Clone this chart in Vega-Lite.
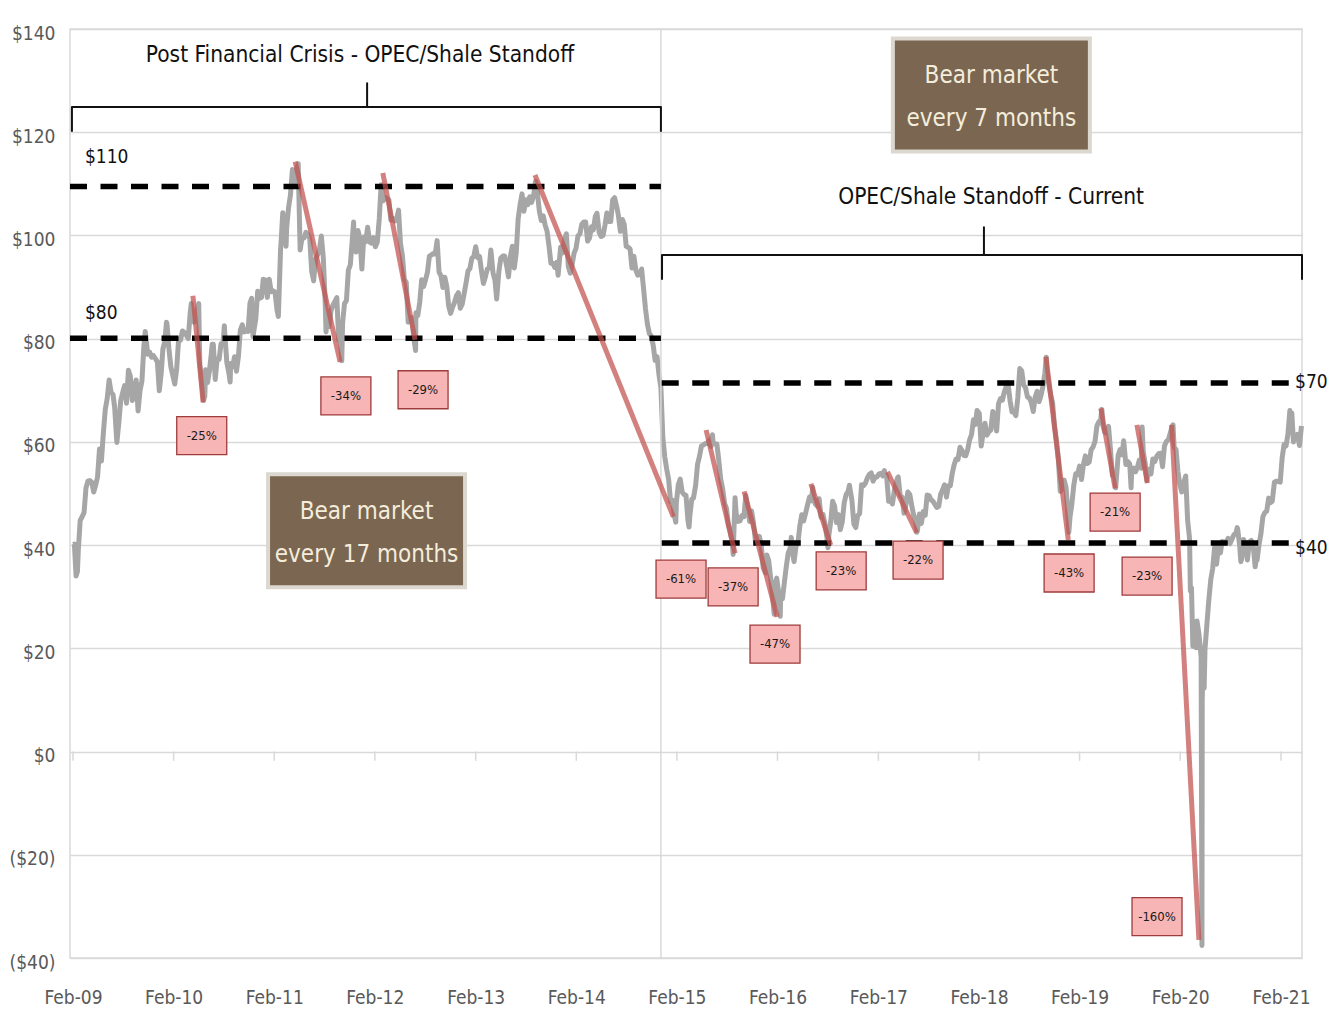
{
"$schema": "https://vega.github.io/schema/vega-lite/v6.json",
"width": 1232, "height": 929,
"autosize": {"type": "none"},
"padding": {"left": 70, "top": 29, "right": 27, "bottom": 55},
"background": "white",
"config": {
  "font": "DejaVu Sans Condensed, Liberation Sans Narrow, sans-serif",
  "view": {"stroke": "#d9d9d9", "strokeWidth": 1.5},
  "axisX": {"grid": false, "ticks": false, "domain": false, "labelFontSize": 19, "labelColor": "#595959", "labelPadding": 30},
  "axisY": {"grid": true, "gridColor": "#d9d9d9", "gridWidth": 1.5, "ticks": false, "domain": false, "labelFontSize": 19, "labelColor": "#595959", "labelPadding": 15, "labelOffset": 4}
},
"datasets": {
"feb": [{"d":"2009-02-01"},{"d":"2010-02-01"},{"d":"2011-02-01"},{"d":"2012-02-01"},{"d":"2013-02-01"},{"d":"2014-02-01"},{"d":"2015-02-01"},{"d":"2016-02-01"},{"d":"2017-02-01"},{"d":"2018-02-01"},{"d":"2019-02-01"},{"d":"2020-02-01"},{"d":"2021-02-01"}],
"wti": [
{"d":"2009-02-02","p":40.1},{"d":"2009-02-06","p":40.2},{"d":"2009-02-12","p":34.0},{"d":"2009-02-17","p":34.9},{"d":"2009-02-20","p":38.9},{"d":"2009-02-27","p":44.8},{"d":"2009-03-06","p":45.5},{"d":"2009-03-13","p":46.3},{"d":"2009-03-20","p":51.1},{"d":"2009-03-27","p":52.4},{"d":"2009-04-03","p":52.5},{"d":"2009-04-10","p":52.2},{"d":"2009-04-17","p":50.3},{"d":"2009-04-24","p":51.6},{"d":"2009-05-01","p":53.2},{"d":"2009-05-08","p":58.6},{"d":"2009-05-15","p":56.3},{"d":"2009-05-22","p":61.7},{"d":"2009-05-29","p":66.3},{"d":"2009-06-05","p":68.4},{"d":"2009-06-12","p":72.0},{"d":"2009-06-19","p":69.6},{"d":"2009-06-26","p":69.2},{"d":"2009-07-02","p":66.7},{"d":"2009-07-10","p":59.9},{"d":"2009-07-17","p":63.6},{"d":"2009-07-24","p":68.0},{"d":"2009-07-31","p":69.5},{"d":"2009-08-07","p":70.9},{"d":"2009-08-14","p":67.5},{"d":"2009-08-21","p":73.9},{"d":"2009-08-28","p":72.7},{"d":"2009-09-04","p":68.0},{"d":"2009-09-11","p":69.3},{"d":"2009-09-18","p":72.0},{"d":"2009-09-25","p":66.0},{"d":"2009-10-02","p":69.9},{"d":"2009-10-09","p":71.8},{"d":"2009-10-16","p":78.5},{"d":"2009-10-21","p":81.4},{"d":"2009-10-23","p":80.5},{"d":"2009-10-30","p":77.0},{"d":"2009-11-06","p":77.4},{"d":"2009-11-13","p":76.4},{"d":"2009-11-20","p":76.7},{"d":"2009-11-27","p":76.1},{"d":"2009-12-04","p":75.5},{"d":"2009-12-11","p":69.9},{"d":"2009-12-18","p":73.4},{"d":"2009-12-24","p":78.0},{"d":"2009-12-31","p":79.4},
{"d":"2010-01-06","p":83.2},{"d":"2010-01-08","p":82.8},{"d":"2010-01-15","p":78.0},{"d":"2010-01-22","p":74.5},{"d":"2010-01-29","p":72.9},{"d":"2010-02-05","p":71.2},{"d":"2010-02-12","p":74.1},{"d":"2010-02-19","p":79.8},{"d":"2010-02-26","p":79.7},{"d":"2010-03-05","p":81.5},{"d":"2010-03-12","p":81.2},{"d":"2010-03-19","p":80.7},{"d":"2010-03-26","p":80.0},{"d":"2010-04-02","p":84.9},{"d":"2010-04-06","p":86.8},{"d":"2010-04-09","p":84.9},{"d":"2010-04-16","p":83.2},{"d":"2010-04-23","p":85.1},{"d":"2010-04-30","p":86.2},{"d":"2010-05-03","p":86.8},{"d":"2010-05-07","p":75.1},{"d":"2010-05-14","p":71.6},{"d":"2010-05-20","p":68.0},{"d":"2010-05-25","p":68.8},{"d":"2010-05-28","p":74.0},{"d":"2010-06-04","p":71.5},{"d":"2010-06-11","p":73.8},{"d":"2010-06-18","p":77.2},{"d":"2010-06-21","p":78.9},{"d":"2010-06-25","p":78.9},{"d":"2010-07-02","p":72.1},{"d":"2010-07-09","p":76.1},{"d":"2010-07-16","p":76.0},{"d":"2010-07-23","p":79.0},{"d":"2010-07-30","p":78.9},{"d":"2010-08-04","p":82.5},{"d":"2010-08-06","p":80.7},{"d":"2010-08-13","p":75.4},{"d":"2010-08-20","p":73.5},{"d":"2010-08-25","p":71.6},{"d":"2010-08-27","p":75.2},{"d":"2010-09-03","p":74.6},{"d":"2010-09-10","p":76.5},{"d":"2010-09-17","p":73.7},{"d":"2010-09-24","p":76.5},{"d":"2010-10-01","p":81.6},{"d":"2010-10-08","p":82.7},{"d":"2010-10-15","p":81.3},{"d":"2010-10-22","p":81.7},{"d":"2010-10-29","p":81.4},{"d":"2010-11-05","p":86.9},{"d":"2010-11-11","p":87.8},{"d":"2010-11-16","p":80.4},{"d":"2010-11-19","p":81.5},{"d":"2010-11-26","p":83.8},{"d":"2010-12-03","p":89.2},{"d":"2010-12-10","p":87.8},{"d":"2010-12-17","p":88.0},{"d":"2010-12-23","p":91.5},{"d":"2010-12-31","p":91.4},
{"d":"2011-01-07","p":88.0},{"d":"2011-01-14","p":91.5},{"d":"2011-01-21","p":89.1},{"d":"2011-01-28","p":89.3},{"d":"2011-02-04","p":89.0},{"d":"2011-02-11","p":85.6},{"d":"2011-02-16","p":84.3},{"d":"2011-02-24","p":97.3},{"d":"2011-02-25","p":97.9},{"d":"2011-03-04","p":104.4},{"d":"2011-03-11","p":101.2},{"d":"2011-03-16","p":97.9},{"d":"2011-03-18","p":101.4},{"d":"2011-03-25","p":105.4},{"d":"2011-04-01","p":107.9},{"d":"2011-04-08","p":112.8},{"d":"2011-04-15","p":109.7},{"d":"2011-04-22","p":112.3},{"d":"2011-04-29","p":113.9},{"d":"2011-05-06","p":97.2},{"d":"2011-05-13","p":99.6},{"d":"2011-05-20","p":99.5},{"d":"2011-05-27","p":100.6},{"d":"2011-06-03","p":100.2},{"d":"2011-06-10","p":99.3},{"d":"2011-06-17","p":93.0},{"d":"2011-06-24","p":91.2},{"d":"2011-07-01","p":95.4},{"d":"2011-07-08","p":96.2},{"d":"2011-07-15","p":97.2},{"d":"2011-07-22","p":99.9},{"d":"2011-07-29","p":95.7},{"d":"2011-08-05","p":86.9},{"d":"2011-08-08","p":81.3},{"d":"2011-08-12","p":85.4},{"d":"2011-08-19","p":82.3},{"d":"2011-08-26","p":85.4},{"d":"2011-09-02","p":86.5},{"d":"2011-09-09","p":87.2},{"d":"2011-09-16","p":87.96},{"d":"2011-09-23","p":79.9},{"d":"2011-09-30","p":79.2},{"d":"2011-10-04","p":75.7},{"d":"2011-10-07","p":83.0},{"d":"2011-10-14","p":86.8},{"d":"2011-10-21","p":87.4},{"d":"2011-10-28","p":93.3},{"d":"2011-11-04","p":94.3},{"d":"2011-11-11","p":98.99},{"d":"2011-11-16","p":102.6},{"d":"2011-11-18","p":97.7},{"d":"2011-11-25","p":96.8},{"d":"2011-12-02","p":100.96},{"d":"2011-12-09","p":99.4},{"d":"2011-12-16","p":93.5},{"d":"2011-12-23","p":99.7},{"d":"2011-12-30","p":98.8},
{"d":"2012-01-06","p":101.6},{"d":"2012-01-13","p":98.7},{"d":"2012-01-20","p":98.5},{"d":"2012-01-27","p":99.6},{"d":"2012-02-03","p":97.8},{"d":"2012-02-10","p":98.7},{"d":"2012-02-17","p":103.2},{"d":"2012-02-24","p":109.8},{"d":"2012-03-02","p":106.7},{"d":"2012-03-09","p":107.4},{"d":"2012-03-16","p":107.1},{"d":"2012-03-23","p":106.9},{"d":"2012-03-30","p":103.0},{"d":"2012-04-06","p":103.3},{"d":"2012-04-13","p":102.8},{"d":"2012-04-20","p":103.1},{"d":"2012-04-27","p":104.9},{"d":"2012-05-04","p":98.5},{"d":"2012-05-11","p":96.1},{"d":"2012-05-18","p":91.5},{"d":"2012-05-25","p":90.9},{"d":"2012-06-01","p":83.2},{"d":"2012-06-08","p":84.1},{"d":"2012-06-15","p":84.0},{"d":"2012-06-22","p":79.8},{"d":"2012-06-28","p":77.7},{"d":"2012-06-29","p":85.0},{"d":"2012-07-06","p":84.5},{"d":"2012-07-13","p":87.1},{"d":"2012-07-20","p":91.4},{"d":"2012-07-27","p":90.1},{"d":"2012-08-03","p":91.4},{"d":"2012-08-10","p":92.9},{"d":"2012-08-17","p":96.0},{"d":"2012-08-24","p":96.2},{"d":"2012-08-31","p":96.5},{"d":"2012-09-07","p":96.4},{"d":"2012-09-14","p":99.0},{"d":"2012-09-21","p":92.9},{"d":"2012-09-28","p":92.2},{"d":"2012-10-05","p":89.9},{"d":"2012-10-12","p":91.9},{"d":"2012-10-19","p":90.1},{"d":"2012-10-26","p":86.3},{"d":"2012-11-02","p":84.9},{"d":"2012-11-09","p":86.1},{"d":"2012-11-16","p":87.0},{"d":"2012-11-23","p":88.3},{"d":"2012-11-30","p":88.9},{"d":"2012-12-07","p":85.9},{"d":"2012-12-14","p":86.7},{"d":"2012-12-21","p":88.7},{"d":"2012-12-28","p":90.8},
{"d":"2013-01-04","p":93.1},{"d":"2013-01-11","p":93.6},{"d":"2013-01-18","p":95.6},{"d":"2013-01-25","p":95.9},{"d":"2013-02-01","p":97.8},{"d":"2013-02-08","p":95.7},{"d":"2013-02-15","p":95.9},{"d":"2013-02-22","p":93.1},{"d":"2013-03-01","p":90.7},{"d":"2013-03-08","p":91.95},{"d":"2013-03-15","p":93.5},{"d":"2013-03-22","p":93.7},{"d":"2013-03-28","p":97.2},{"d":"2013-04-05","p":92.7},{"d":"2013-04-12","p":91.3},{"d":"2013-04-18","p":87.7},{"d":"2013-04-26","p":93.0},{"d":"2013-05-03","p":95.6},{"d":"2013-05-10","p":96.0},{"d":"2013-05-17","p":96.0},{"d":"2013-05-24","p":94.2},{"d":"2013-05-31","p":91.97},{"d":"2013-06-07","p":96.0},{"d":"2013-06-14","p":97.9},{"d":"2013-06-21","p":93.7},{"d":"2013-06-28","p":96.6},{"d":"2013-07-05","p":103.2},{"d":"2013-07-12","p":105.95},{"d":"2013-07-19","p":108.05},{"d":"2013-07-26","p":104.7},{"d":"2013-08-02","p":106.9},{"d":"2013-08-09","p":105.97},{"d":"2013-08-16","p":107.5},{"d":"2013-08-23","p":106.4},{"d":"2013-08-30","p":107.7},{"d":"2013-09-06","p":110.5},{"d":"2013-09-13","p":108.2},{"d":"2013-09-20","p":104.7},{"d":"2013-09-27","p":102.9},{"d":"2013-10-04","p":103.8},{"d":"2013-10-11","p":102.0},{"d":"2013-10-18","p":100.8},{"d":"2013-10-25","p":97.9},{"d":"2013-11-01","p":94.6},{"d":"2013-11-08","p":94.6},{"d":"2013-11-15","p":93.8},{"d":"2013-11-22","p":94.8},{"d":"2013-11-27","p":92.3},{"d":"2013-12-06","p":97.7},{"d":"2013-12-13","p":96.6},{"d":"2013-12-20","p":99.3},{"d":"2013-12-27","p":100.3},
{"d":"2014-01-03","p":93.96},{"d":"2014-01-10","p":92.7},{"d":"2014-01-17","p":94.4},{"d":"2014-01-24","p":96.6},{"d":"2014-01-31","p":97.5},{"d":"2014-02-07","p":99.9},{"d":"2014-02-14","p":100.3},{"d":"2014-02-21","p":102.2},{"d":"2014-02-28","p":102.6},{"d":"2014-03-07","p":102.6},{"d":"2014-03-14","p":98.9},{"d":"2014-03-21","p":99.5},{"d":"2014-03-28","p":101.7},{"d":"2014-04-04","p":101.1},{"d":"2014-04-11","p":103.7},{"d":"2014-04-17","p":104.3},{"d":"2014-04-25","p":100.6},{"d":"2014-05-02","p":99.8},{"d":"2014-05-09","p":99.99},{"d":"2014-05-16","p":102.0},{"d":"2014-05-23","p":104.35},{"d":"2014-05-30","p":102.7},{"d":"2014-06-06","p":102.7},{"d":"2014-06-13","p":106.9},{"d":"2014-06-20","p":107.3},{"d":"2014-06-27","p":105.7},{"d":"2014-07-03","p":104.1},{"d":"2014-07-11","p":100.8},{"d":"2014-07-18","p":103.1},{"d":"2014-07-25","p":102.1},{"d":"2014-08-01","p":97.9},{"d":"2014-08-08","p":97.7},{"d":"2014-08-15","p":97.4},{"d":"2014-08-22","p":93.7},{"d":"2014-08-29","p":95.96},{"d":"2014-09-05","p":93.3},{"d":"2014-09-12","p":92.3},{"d":"2014-09-19","p":92.4},{"d":"2014-09-26","p":93.5},{"d":"2014-10-03","p":89.7},{"d":"2014-10-10","p":85.8},{"d":"2014-10-17","p":82.8},{"d":"2014-10-24","p":81.0},{"d":"2014-10-31","p":80.5},{"d":"2014-11-07","p":78.7},{"d":"2014-11-14","p":75.8},{"d":"2014-11-21","p":76.5},{"d":"2014-11-28","p":73.0},{"d":"2014-12-05","p":70.5},{"d":"2014-12-12","p":60.8},{"d":"2014-12-19","p":57.1},{"d":"2014-12-26","p":54.7},
{"d":"2015-01-02","p":52.7},{"d":"2015-01-09","p":48.4},{"d":"2015-01-16","p":48.7},{"d":"2015-01-23","p":45.6},{"d":"2015-01-28","p":44.45},{"d":"2015-01-30","p":48.2},{"d":"2015-02-06","p":51.7},{"d":"2015-02-13","p":52.8},{"d":"2015-02-20","p":50.3},{"d":"2015-02-27","p":49.8},{"d":"2015-03-06","p":49.6},{"d":"2015-03-13","p":44.8},{"d":"2015-03-17","p":43.5},{"d":"2015-03-20","p":45.7},{"d":"2015-03-27","p":48.9},{"d":"2015-04-02","p":49.1},{"d":"2015-04-10","p":51.6},{"d":"2015-04-17","p":55.7},{"d":"2015-04-24","p":57.2},{"d":"2015-05-01","p":59.2},{"d":"2015-05-08","p":59.4},{"d":"2015-05-15","p":59.7},{"d":"2015-05-22","p":59.7},{"d":"2015-05-29","p":60.3},{"d":"2015-06-05","p":59.1},{"d":"2015-06-10","p":61.4},{"d":"2015-06-12","p":59.96},{"d":"2015-06-19","p":59.6},{"d":"2015-06-26","p":59.6},{"d":"2015-07-02","p":56.9},{"d":"2015-07-10","p":52.7},{"d":"2015-07-17","p":50.9},{"d":"2015-07-24","p":48.1},{"d":"2015-07-31","p":47.1},{"d":"2015-08-07","p":43.9},{"d":"2015-08-14","p":42.5},{"d":"2015-08-21","p":40.5},{"d":"2015-08-24","p":38.2},{"d":"2015-08-31","p":49.2},{"d":"2015-09-04","p":46.1},{"d":"2015-09-11","p":44.6},{"d":"2015-09-18","p":44.7},{"d":"2015-09-25","p":45.7},{"d":"2015-10-02","p":45.5},{"d":"2015-10-09","p":49.6},{"d":"2015-10-16","p":47.3},{"d":"2015-10-23","p":44.6},{"d":"2015-10-30","p":46.6},{"d":"2015-11-06","p":44.3},{"d":"2015-11-13","p":40.7},{"d":"2015-11-20","p":40.4},{"d":"2015-11-27","p":41.7},{"d":"2015-12-04","p":39.97},{"d":"2015-12-11","p":35.6},{"d":"2015-12-18","p":34.7},{"d":"2015-12-21","p":34.6},{"d":"2015-12-24","p":38.1},{"d":"2015-12-31","p":37.0},
{"d":"2016-01-08","p":33.2},{"d":"2016-01-15","p":29.4},{"d":"2016-01-20","p":26.6},{"d":"2016-01-22","p":32.2},{"d":"2016-01-29","p":33.6},{"d":"2016-02-05","p":30.9},{"d":"2016-02-11","p":26.2},{"d":"2016-02-12","p":29.4},{"d":"2016-02-19","p":29.6},{"d":"2016-02-26","p":32.8},{"d":"2016-03-04","p":35.9},{"d":"2016-03-11","p":38.5},{"d":"2016-03-18","p":39.4},{"d":"2016-03-22","p":41.5},{"d":"2016-03-24","p":39.5},{"d":"2016-04-01","p":36.8},{"d":"2016-04-08","p":39.7},{"d":"2016-04-15","p":40.4},{"d":"2016-04-22","p":43.7},{"d":"2016-04-29","p":45.9},{"d":"2016-05-06","p":44.7},{"d":"2016-05-13","p":46.2},{"d":"2016-05-20","p":47.8},{"d":"2016-05-27","p":49.3},{"d":"2016-06-03","p":48.6},{"d":"2016-06-08","p":51.2},{"d":"2016-06-10","p":49.1},{"d":"2016-06-17","p":47.98},{"d":"2016-06-24","p":47.6},{"d":"2016-07-01","p":48.99},{"d":"2016-07-08","p":45.4},{"d":"2016-07-15","p":45.95},{"d":"2016-07-22","p":44.2},{"d":"2016-07-29","p":41.6},{"d":"2016-08-02","p":39.5},{"d":"2016-08-05","p":41.8},{"d":"2016-08-12","p":44.5},{"d":"2016-08-19","p":48.5},{"d":"2016-08-26","p":47.6},{"d":"2016-09-02","p":44.4},{"d":"2016-09-09","p":45.9},{"d":"2016-09-16","p":43.0},{"d":"2016-09-23","p":44.5},{"d":"2016-09-30","p":48.2},{"d":"2016-10-07","p":49.8},{"d":"2016-10-14","p":50.4},{"d":"2016-10-19","p":51.6},{"d":"2016-10-21","p":50.9},{"d":"2016-10-28","p":48.7},{"d":"2016-11-04","p":44.1},{"d":"2016-11-11","p":43.4},{"d":"2016-11-18","p":45.7},{"d":"2016-11-25","p":46.1},{"d":"2016-12-02","p":51.7},{"d":"2016-12-09","p":51.5},{"d":"2016-12-16","p":52.0},{"d":"2016-12-23","p":53.0},{"d":"2016-12-30","p":53.7},
{"d":"2017-01-06","p":53.99},{"d":"2017-01-13","p":52.4},{"d":"2017-01-20","p":53.2},{"d":"2017-01-27","p":53.2},{"d":"2017-02-03","p":53.8},{"d":"2017-02-10","p":53.9},{"d":"2017-02-17","p":53.4},{"d":"2017-02-23","p":54.45},{"d":"2017-02-24","p":53.99},{"d":"2017-03-03","p":53.3},{"d":"2017-03-09","p":49.3},{"d":"2017-03-10","p":48.5},{"d":"2017-03-17","p":48.8},{"d":"2017-03-24","p":47.97},{"d":"2017-03-31","p":50.6},{"d":"2017-04-07","p":52.2},{"d":"2017-04-12","p":53.1},{"d":"2017-04-14","p":53.2},{"d":"2017-04-21","p":49.6},{"d":"2017-04-28","p":49.3},{"d":"2017-05-05","p":46.2},{"d":"2017-05-12","p":47.8},{"d":"2017-05-19","p":50.3},{"d":"2017-05-26","p":49.8},{"d":"2017-06-02","p":47.7},{"d":"2017-06-09","p":45.8},{"d":"2017-06-16","p":44.7},{"d":"2017-06-21","p":42.5},{"d":"2017-06-23","p":43.0},{"d":"2017-06-30","p":46.04},{"d":"2017-07-07","p":44.2},{"d":"2017-07-14","p":46.5},{"d":"2017-07-21","p":45.8},{"d":"2017-07-28","p":49.7},{"d":"2017-08-04","p":49.6},{"d":"2017-08-11","p":48.8},{"d":"2017-08-18","p":48.5},{"d":"2017-08-25","p":47.9},{"d":"2017-09-01","p":47.3},{"d":"2017-09-08","p":47.5},{"d":"2017-09-15","p":49.9},{"d":"2017-09-22","p":50.7},{"d":"2017-09-29","p":51.7},{"d":"2017-10-06","p":49.3},{"d":"2017-10-13","p":51.5},{"d":"2017-10-20","p":51.5},{"d":"2017-10-27","p":53.9},{"d":"2017-11-03","p":55.6},{"d":"2017-11-10","p":56.7},{"d":"2017-11-17","p":56.6},{"d":"2017-11-24","p":58.95},{"d":"2017-12-01","p":58.4},{"d":"2017-12-08","p":57.4},{"d":"2017-12-15","p":57.3},{"d":"2017-12-22","p":58.5},{"d":"2017-12-29","p":60.4},
{"d":"2018-01-05","p":61.4},{"d":"2018-01-12","p":64.3},{"d":"2018-01-19","p":63.4},{"d":"2018-01-25","p":66.1},{"d":"2018-02-02","p":65.5},{"d":"2018-02-09","p":59.2},{"d":"2018-02-16","p":61.7},{"d":"2018-02-23","p":63.6},{"d":"2018-03-02","p":61.3},{"d":"2018-03-09","p":62.0},{"d":"2018-03-16","p":62.3},{"d":"2018-03-23","p":65.9},{"d":"2018-03-29","p":64.9},{"d":"2018-04-06","p":62.1},{"d":"2018-04-13","p":67.4},{"d":"2018-04-20","p":68.4},{"d":"2018-04-27","p":68.1},{"d":"2018-05-04","p":69.7},{"d":"2018-05-11","p":70.7},{"d":"2018-05-17","p":71.5},{"d":"2018-05-25","p":67.9},{"d":"2018-06-01","p":65.8},{"d":"2018-06-08","p":65.7},{"d":"2018-06-15","p":65.1},{"d":"2018-06-22","p":68.6},{"d":"2018-06-29","p":74.2},{"d":"2018-07-06","p":73.8},{"d":"2018-07-13","p":71.0},{"d":"2018-07-20","p":70.5},{"d":"2018-07-27","p":68.7},{"d":"2018-08-03","p":68.5},{"d":"2018-08-10","p":67.6},{"d":"2018-08-17","p":65.9},{"d":"2018-08-24","p":68.7},{"d":"2018-08-31","p":69.8},{"d":"2018-09-07","p":67.8},{"d":"2018-09-14","p":68.99},{"d":"2018-09-21","p":70.8},{"d":"2018-09-28","p":73.3},{"d":"2018-10-03","p":76.4},{"d":"2018-10-05","p":74.3},{"d":"2018-10-12","p":71.3},{"d":"2018-10-19","p":69.1},{"d":"2018-10-26","p":67.6},{"d":"2018-11-02","p":63.1},{"d":"2018-11-09","p":60.2},{"d":"2018-11-16","p":56.5},{"d":"2018-11-23","p":50.4},{"d":"2018-11-30","p":50.9},{"d":"2018-12-07","p":52.6},{"d":"2018-12-14","p":51.2},{"d":"2018-12-21","p":45.6},{"d":"2018-12-24","p":42.5},{"d":"2018-12-28","p":45.3},
{"d":"2019-01-04","p":47.96},{"d":"2019-01-11","p":51.6},{"d":"2019-01-18","p":53.8},{"d":"2019-01-25","p":53.7},{"d":"2019-02-01","p":55.3},{"d":"2019-02-08","p":52.7},{"d":"2019-02-15","p":55.6},{"d":"2019-02-22","p":57.3},{"d":"2019-03-01","p":55.8},{"d":"2019-03-08","p":56.1},{"d":"2019-03-15","p":58.5},{"d":"2019-03-22","p":59.0},{"d":"2019-03-29","p":60.1},{"d":"2019-04-05","p":63.1},{"d":"2019-04-12","p":63.9},{"d":"2019-04-18","p":64.0},{"d":"2019-04-23","p":66.3},{"d":"2019-04-26","p":63.3},{"d":"2019-05-03","p":61.9},{"d":"2019-05-10","p":61.7},{"d":"2019-05-17","p":63.0},{"d":"2019-05-24","p":58.6},{"d":"2019-05-31","p":53.5},{"d":"2019-06-07","p":53.99},{"d":"2019-06-12","p":51.1},{"d":"2019-06-14","p":52.5},{"d":"2019-06-21","p":57.4},{"d":"2019-06-28","p":58.5},{"d":"2019-07-05","p":57.5},{"d":"2019-07-11","p":60.2},{"d":"2019-07-19","p":55.6},{"d":"2019-07-26","p":56.2},{"d":"2019-08-02","p":55.7},{"d":"2019-08-07","p":51.1},{"d":"2019-08-09","p":54.5},{"d":"2019-08-16","p":54.9},{"d":"2019-08-23","p":54.2},{"d":"2019-08-30","p":55.1},{"d":"2019-09-06","p":56.5},{"d":"2019-09-13","p":54.9},{"d":"2019-09-16","p":62.9},{"d":"2019-09-20","p":58.1},{"d":"2019-09-27","p":55.9},{"d":"2019-10-03","p":52.5},{"d":"2019-10-04","p":52.8},{"d":"2019-10-11","p":54.7},{"d":"2019-10-18","p":53.8},{"d":"2019-10-25","p":56.7},{"d":"2019-11-01","p":56.2},{"d":"2019-11-08","p":57.2},{"d":"2019-11-15","p":57.7},{"d":"2019-11-22","p":57.8},{"d":"2019-11-29","p":55.2},{"d":"2019-12-06","p":59.2},{"d":"2019-12-13","p":60.1},{"d":"2019-12-20","p":60.4},{"d":"2019-12-27","p":61.7},
{"d":"2020-01-03","p":63.05},{"d":"2020-01-06","p":63.3},{"d":"2020-01-10","p":59.0},{"d":"2020-01-17","p":58.5},{"d":"2020-01-24","p":54.2},{"d":"2020-01-31","p":51.6},{"d":"2020-02-07","p":50.3},{"d":"2020-02-14","p":52.1},{"d":"2020-02-21","p":53.4},{"d":"2020-02-28","p":44.8},{"d":"2020-03-06","p":41.3},{"d":"2020-03-09","p":31.1},{"d":"2020-03-13","p":31.7},{"d":"2020-03-18","p":20.4},{"d":"2020-03-20","p":22.4},{"d":"2020-03-27","p":21.5},{"d":"2020-03-30","p":20.1},{"d":"2020-04-02","p":25.3},{"d":"2020-04-09","p":22.8},{"d":"2020-04-14","p":20.1},{"d":"2020-04-17","p":18.3},{"d":"2020-04-20","p":-37.6},{"d":"2020-04-21","p":10.0},{"d":"2020-04-24","p":16.9},{"d":"2020-04-28","p":12.3},{"d":"2020-05-01","p":19.8},{"d":"2020-05-08","p":24.7},{"d":"2020-05-15","p":29.4},{"d":"2020-05-22","p":33.3},{"d":"2020-05-29","p":35.5},{"d":"2020-06-05","p":39.6},{"d":"2020-06-12","p":36.3},{"d":"2020-06-19","p":39.8},{"d":"2020-06-26","p":38.5},{"d":"2020-07-02","p":40.7},{"d":"2020-07-10","p":40.6},{"d":"2020-07-17","p":40.6},{"d":"2020-07-24","p":41.3},{"d":"2020-07-31","p":40.3},{"d":"2020-08-07","p":41.2},{"d":"2020-08-14","p":42.0},{"d":"2020-08-21","p":42.3},{"d":"2020-08-26","p":43.4},{"d":"2020-08-28","p":42.97},{"d":"2020-09-04","p":39.8},{"d":"2020-09-08","p":36.8},{"d":"2020-09-11","p":37.3},{"d":"2020-09-18","p":41.1},{"d":"2020-09-25","p":40.3},{"d":"2020-10-02","p":37.1},{"d":"2020-10-09","p":40.6},{"d":"2020-10-16","p":40.9},{"d":"2020-10-23","p":39.9},{"d":"2020-10-30","p":35.8},{"d":"2020-11-02","p":36.8},{"d":"2020-11-06","p":37.1},{"d":"2020-11-13","p":40.1},{"d":"2020-11-20","p":42.2},{"d":"2020-11-27","p":45.5},{"d":"2020-12-04","p":46.3},{"d":"2020-12-11","p":46.6},{"d":"2020-12-18","p":49.1},{"d":"2020-12-24","p":48.2},{"d":"2020-12-31","p":48.5},
{"d":"2021-01-08","p":52.2},{"d":"2021-01-15","p":52.4},{"d":"2021-01-22","p":52.3},{"d":"2021-01-29","p":52.2},{"d":"2021-02-05","p":56.9},{"d":"2021-02-12","p":59.5},{"d":"2021-02-19","p":59.2},{"d":"2021-02-26","p":61.5},{"d":"2021-03-05","p":66.1},{"d":"2021-03-08","p":65.05},{"d":"2021-03-12","p":65.6},{"d":"2021-03-18","p":60.0},{"d":"2021-03-19","p":61.4},{"d":"2021-03-26","p":60.97},{"d":"2021-04-01","p":61.45},{"d":"2021-04-09","p":59.3},{"d":"2021-04-16","p":63.1}
],
"lvl": [
{"d1":"2009-01-21","d2":"2014-12-05","v":109.5},
{"d1":"2009-01-21","d2":"2014-12-05","v":80.1},
{"d1":"2014-12-08","d2":"2021-04-01","v":71.4},
{"d1":"2014-12-08","d2":"2021-04-01","v":40.4}
],
"drops": [
{"s":1,"d":"2010-04-12","v":88.3},{"s":1,"d":"2010-05-19","v":67.7},
{"s":2,"d":"2011-04-18","v":114.3},{"s":2,"d":"2011-09-28","v":75.5},
{"s":3,"d":"2012-03-01","v":112.1},{"s":3,"d":"2012-06-26","v":79.8},
{"s":4,"d":"2013-09-04","v":111.7},{"s":4,"d":"2015-01-19","v":45.5},
{"s":5,"d":"2015-05-18","v":62.3},{"s":5,"d":"2015-08-31","v":38.4},
{"s":6,"d":"2015-10-03","v":50.4},{"s":6,"d":"2016-01-31","v":26.1},
{"s":7,"d":"2016-06-01","v":51.9},{"s":7,"d":"2016-08-12","v":40.0},
{"s":8,"d":"2017-03-06","v":54.2},{"s":8,"d":"2017-06-20","v":42.4},
{"s":9,"d":"2018-10-02","v":76.5},{"s":9,"d":"2018-12-22","v":41.0},
{"s":10,"d":"2019-04-19","v":66.5},{"s":10,"d":"2019-06-10","v":51.0},
{"s":11,"d":"2019-08-28","v":63.3},{"s":11,"d":"2019-10-05","v":52.0},
{"s":12,"d":"2020-01-01","v":63.3},{"s":12,"d":"2020-04-09","v":-36.5}
],
"pct": [
{"d":"2010-05-14","v":61.2,"t":"-25%"},
{"d":"2011-10-19","v":68.9,"t":"-34%"},
{"d":"2012-07-25","v":70.1,"t":"-29%"},
{"d":"2015-02-16","v":33.4,"t":"-61%"},
{"d":"2015-08-24","v":31.9,"t":"-37%"},
{"d":"2016-01-23","v":20.8,"t":"-47%"},
{"d":"2016-09-19","v":35.0,"t":"-23%"},
{"d":"2017-06-25","v":37.1,"t":"-22%"},
{"d":"2018-12-25","v":34.6,"t":"-43%"},
{"d":"2019-06-10","v":46.4,"t":"-21%"},
{"d":"2019-10-04","v":34.0,"t":"-23%"},
{"d":"2019-11-09","v":-32.0,"t":"-160%"}
],
"bear": [
{"d":"2012-01-02","v":42.8,"t":"Bear market\nevery 17 months"},
{"d":"2018-03-18","v":127.2,"t":"Bear market\nevery 7 months"}
],
"br": [
{"b":1,"o":1,"d":"2009-01-28","v":120.1},{"b":1,"o":2,"d":"2009-01-28","v":124.9},{"b":1,"o":3,"d":"2012-01-04","v":124.9},{"b":1,"o":4,"d":"2012-01-04","v":129.5},{"b":1,"o":5,"d":"2012-01-04","v":124.9},{"b":1,"o":6,"d":"2014-12-05","v":124.9},{"b":1,"o":7,"d":"2014-12-05","v":120.1},
{"b":2,"o":1,"d":"2014-12-09","v":91.4},{"b":2,"o":2,"d":"2014-12-09","v":96.2},{"b":2,"o":3,"d":"2018-02-19","v":96.2},{"b":2,"o":4,"d":"2018-02-19","v":101.6},{"b":2,"o":5,"d":"2018-02-19","v":96.2},{"b":2,"o":6,"d":"2021-04-18","v":96.2},{"b":2,"o":7,"d":"2021-04-18","v":91.4}
],
"ttl": [
{"d":"2011-12-09","v":135.0,"t":"Post Financial Crisis - OPEC/Shale Standoff"},
{"d":"2018-03-17","v":107.5,"t":"OPEC/Shale Standoff - Current"}
],
"lvlab": [
{"d":"2009-03-16","v":115.2,"t":"$110"},
{"d":"2009-03-16","v":85.0,"t":"$80"},
{"d":"2021-03-24","v":71.6,"t":"$70"},
{"d":"2021-03-24","v":39.4,"t":"$40"}
]
},
"layer": [
{
 "data": {"name": "wti"},
 "mark": {"type": "line", "color": "#a6a6a6", "strokeWidth": 5, "strokeJoin": "round"},
 "encoding": {
  "x": {"field": "d", "type": "temporal", "title": null,
        "scale": {"domain": [{"year": 2009, "month": 1, "date": 21}, {"year": 2021, "month": 4, "date": 18}]},
        "axis": {"title": null, "format": "%b-%y",
          "values": [{"year":2009,"month":2,"date":1},{"year":2010,"month":2,"date":1},{"year":2011,"month":2,"date":1},{"year":2012,"month":2,"date":1},{"year":2013,"month":2,"date":1},{"year":2014,"month":2,"date":1},{"year":2015,"month":2,"date":1},{"year":2016,"month":2,"date":1},{"year":2017,"month":2,"date":1},{"year":2018,"month":2,"date":1},{"year":2019,"month":2,"date":1},{"year":2020,"month":2,"date":1},{"year":2021,"month":2,"date":1}]}},
  "y": {"field": "p", "type": "quantitative", "title": null, "scale": {"domain": [-40, 140], "nice": false, "zero": false},
        "axis": {"title": null, "values": [-40, -20, 0, 20, 40, 60, 80, 100, 120, 140],
          "labelExpr": "datum.value < 0 ? '($' + abs(datum.value) + ')' : '$' + datum.value"}}
 }
},
{
 "data": {"name": "feb"},
 "mark": {"type": "rule", "color": "#d9d9d9", "strokeWidth": 1.5},
 "encoding": {
  "x": {"field": "d", "type": "temporal", "title": null},
  "y": {"datum": 0},
  "y2": {"datum": -1.8}
 }
},
{
 "data": {"values": [{"d": "2014-12-05"}]},
 "mark": {"type": "rule", "color": "#d9d9d9", "strokeWidth": 1.5},
 "encoding": {"x": {"field": "d", "type": "temporal", "title": null}}
},
{
 "data": {"name": "lvl"},
 "mark": {"type": "rule", "color": "#000000", "strokeWidth": 5.5, "strokeDash": [17, 13.5], "strokeCap": "butt"},
 "encoding": {
  "x": {"field": "d1", "type": "temporal", "title": null},
  "x2": {"field": "d2"},
  "y": {"field": "v", "type": "quantitative", "title": null}
 }
},
{
 "data": {"name": "drops"},
 "mark": {"type": "line", "color": "#c0504d", "opacity": 0.72, "strokeWidth": 5, "strokeCap": "butt"},
 "encoding": {
  "x": {"field": "d", "type": "temporal", "title": null},
  "y": {"field": "v", "type": "quantitative", "title": null},
  "detail": {"field": "s", "type": "nominal"}
 }
},
{
 "data": {"name": "pct"},
 "mark": {"type": "point", "shape": "M-1,-0.76H1V0.76H-1Z", "size": 2500, "filled": true, "fill": "#f7b5b5", "stroke": "#9e3b3b", "strokeWidth": 1.3, "opacity": 1},
 "encoding": {
  "x": {"field": "d", "type": "temporal", "title": null},
  "y": {"field": "v", "type": "quantitative", "title": null}
 }
},
{
 "data": {"name": "pct"},
 "mark": {"type": "text", "fontSize": 13, "color": "#1a1a1a", "align": "center", "baseline": "middle"},
 "encoding": {
  "x": {"field": "d", "type": "temporal", "title": null},
  "y": {"field": "v", "type": "quantitative", "title": null},
  "text": {"field": "t"}
 }
},
{
 "data": {"name": "bear"},
 "mark": {"type": "point", "shape": "M-1,-0.5736H1V0.5736H-1Z", "size": 38809, "filled": true, "fill": "#7a6651", "stroke": "#dcd7cf", "strokeWidth": 4, "opacity": 1},
 "encoding": {
  "x": {"field": "d", "type": "temporal", "title": null},
  "y": {"field": "v", "type": "quantitative", "title": null}
 }
},
{
 "data": {"name": "bear"},
 "mark": {"type": "text", "fontSize": 24, "color": "#f5eddc", "align": "center", "baseline": "middle", "lineBreak": "\n", "lineHeight": 43, "dy": -19},
 "encoding": {
  "x": {"field": "d", "type": "temporal", "title": null},
  "y": {"field": "v", "type": "quantitative", "title": null},
  "text": {"field": "t"}
 }
},
{
 "data": {"name": "br"},
 "mark": {"type": "line", "color": "#111111", "strokeWidth": 2, "strokeJoin": "round"},
 "encoding": {
  "x": {"field": "d", "type": "temporal", "title": null},
  "y": {"field": "v", "type": "quantitative", "title": null},
  "detail": {"field": "b", "type": "nominal"},
  "order": {"field": "o", "type": "quantitative"}
 }
},
{
 "data": {"name": "ttl"},
 "mark": {"type": "text", "fontSize": 22.5, "color": "#111111", "align": "center", "baseline": "middle"},
 "encoding": {
  "x": {"field": "d", "type": "temporal", "title": null},
  "y": {"field": "v", "type": "quantitative", "title": null},
  "text": {"field": "t"}
 }
},
{
 "data": {"name": "lvlab"},
 "mark": {"type": "text", "fontSize": 19, "color": "#111111", "align": "left", "baseline": "middle"},
 "encoding": {
  "x": {"field": "d", "type": "temporal", "title": null},
  "y": {"field": "v", "type": "quantitative", "title": null},
  "text": {"field": "t"}
 }
}
]
}
